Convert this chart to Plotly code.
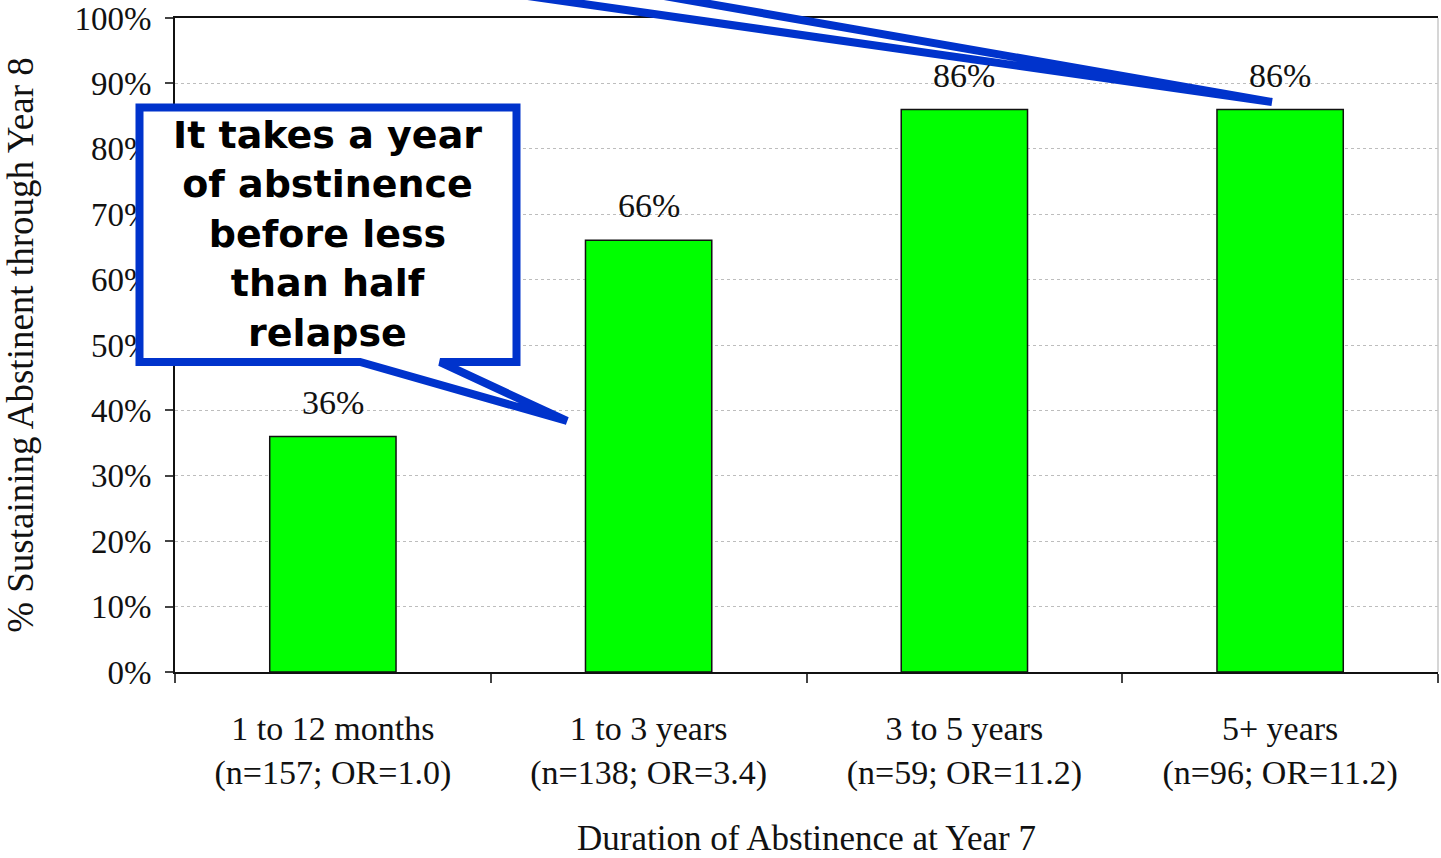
import plotly.graph_objects as go

# Abstinence duration groups and the share still abstinent at year 8
categories = [
    "1 to 12 months<br>(n=157; OR=1.0)",
    "1 to 3 years<br>(n=138; OR=3.4)",
    "3 to 5 years<br>(n=59; OR=11.2)",
    "5+ years<br>(n=96; OR=11.2)",
]
pct_abstinent = [36, 66, 86, 86]
y_ticks = [0, 10, 20, 30, 40, 50, 60, 70, 80, 90, 100]
y_tick_text = [f"{t}%" for t in y_ticks]
callout_text = "It takes a year<br>of abstinence<br>before less<br>than half<br>relapse"

W, H = 1441, 858
M_L, M_R, M_T, M_B = 175, 3, 18, 186
PW, PH = W - M_L - M_R, H - M_T - M_B

SERIF = "Liberation Serif, Times New Roman, serif"
BLUE = "#0033cc"


def px_x(x):
    return (x - M_L) / PW


def px_y(y):
    return (H - M_B - y) / PH


def path(points):
    s = "M " + " L ".join(f"{px_x(x):.5f},{px_y(y):.5f}" for x, y in points)
    return s + " Z"


fig = go.Figure()
fig.add_trace(go.Bar(
    x=categories,
    y=pct_abstinent,
    marker=dict(color="#00ff00", line=dict(color="#111111", width=1.5)),
    width=0.4,
    hoverinfo="skip",
))

# value labels above the bars
for c, v in zip(categories, pct_abstinent):
    fig.add_annotation(x=c, y=v, xref="x", yref="y", text=f"{v}%", showarrow=False,
                       yanchor="bottom", yshift=14,
                       font=dict(family=SERIF, size=34, color="#111111"))

# callout box with pointer toward the second bar
box_pts = [(139.5, 107.5), (516.5, 107.5), (516.5, 362), (440, 362),
           (567, 421), (360, 362), (139.5, 362)]
fig.add_shape(type="path", path=path(box_pts), xref="paper", yref="paper",
              fillcolor="white", line=dict(color=BLUE, width=8), layer="above")

# pointer from a callout above the chart toward the last bar
top_pts = [(345, -30), (515, -30), (1272, 102)]
fig.add_shape(type="path", path=path(top_pts), xref="paper", yref="paper",
              fillcolor="white", line=dict(color=BLUE, width=8), layer="above")

# right border of the plot area
fig.add_shape(type="line", x0=1, x1=1, y0=0, y1=1, xref="paper", yref="paper",
              line=dict(color="#c8c8c8", width=1.5))

fig.add_annotation(x=px_x(327), y=px_y(234), xref="paper", yref="paper",
                   text=f"<b>{callout_text}</b>", showarrow=False,
                   xanchor="center", yanchor="middle", align="center",
                   font=dict(family="DejaVu Sans, Verdana, sans-serif", size=38, color="black"))

fig.update_layout(
    width=W, height=H,
    margin=dict(l=M_L, r=M_R, t=M_T, b=M_B, pad=0),
    paper_bgcolor="white", plot_bgcolor="white",
    showlegend=False,
    bargap=0.6,
    font=dict(family=SERIF, size=34, color="#111111"),
)
fig.update_xaxes(
    title=dict(text="Duration of Abstinence at Year 7", font=dict(size=35), standoff=36),
    showline=True, linecolor="#111111", linewidth=2, mirror=True,
    ticks="outside", tickson="boundaries", ticklen=9, tickcolor="#444444", tickwidth=1.5,
    tickfont=dict(size=34), ticklabelstandoff=25,
    showgrid=False, automargin=False,
)
fig.update_yaxes(
    title=dict(text="% Sustaining Abstinent through Year 8", font=dict(size=37), standoff=30),
    range=[0, 100], tickvals=y_ticks, ticktext=y_tick_text,
    showline=True, linecolor="#111111", linewidth=2,
    ticks="outside", ticklen=8, tickcolor="#444444", tickwidth=1.5,
    tickfont=dict(size=33), ticklabelstandoff=7, ticklabeloverflow="allow",
    showgrid=True, gridcolor="#bdbdbd", griddash="dot", gridwidth=1,
    zeroline=False, automargin=False,
)

fig.write_html("out.html")
